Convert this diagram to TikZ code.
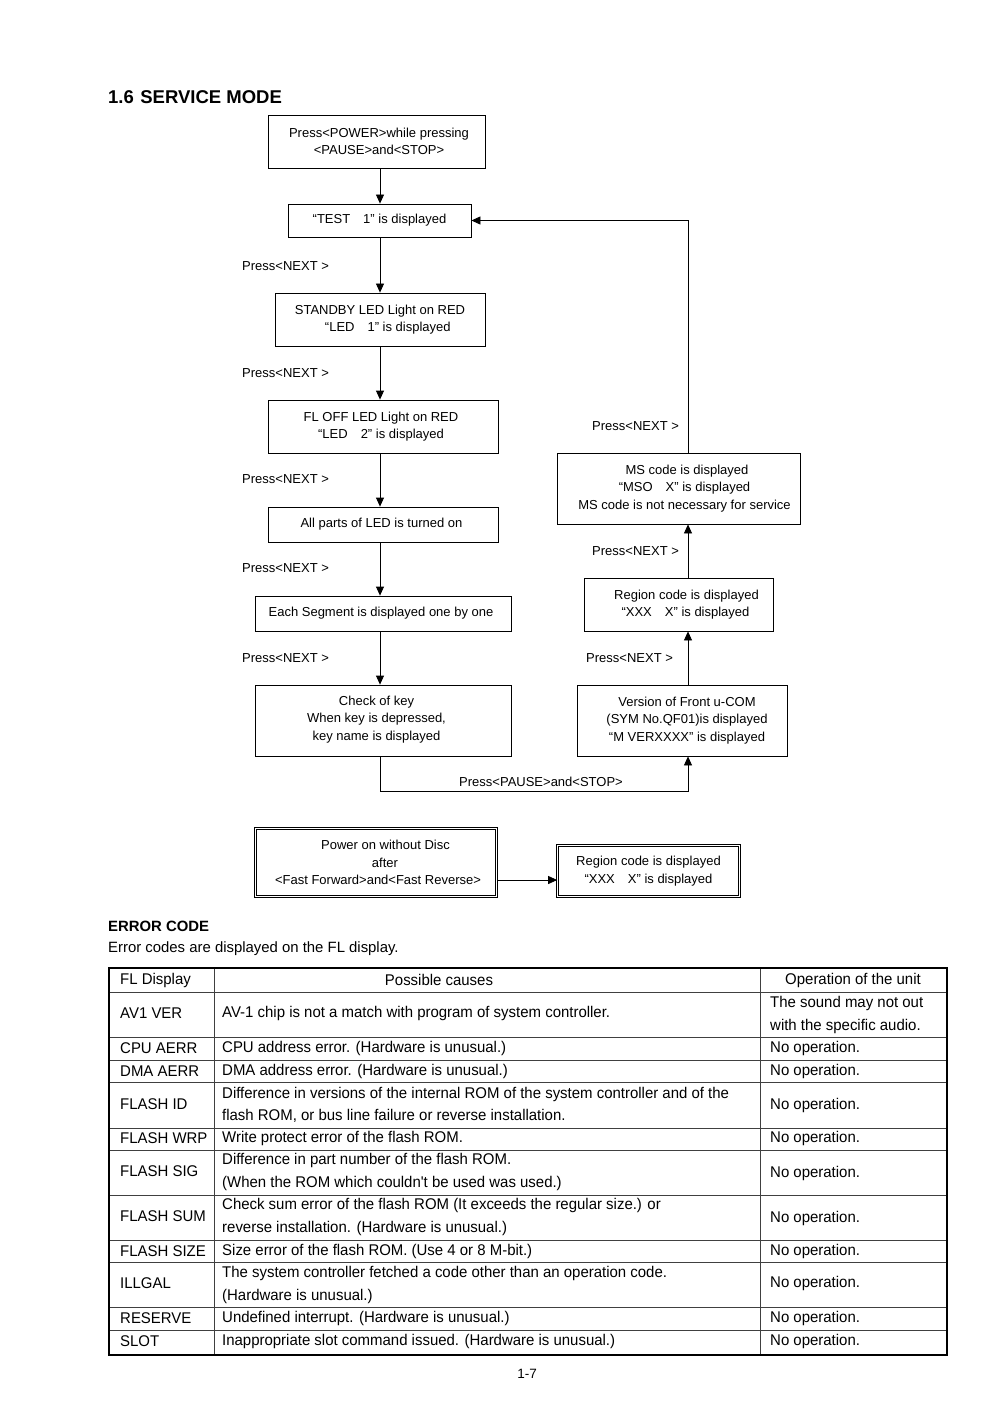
\documentclass[tikz,border=0pt]{standalone}
\usepackage{fontspec}
\setmainfont{Liberation Sans}
\newfontfamily\tabfont[FakeStretch=0.965]{Liberation Sans}
\usetikzlibrary{arrows.meta}
\newcommand{\fsz}{\fontsize{13}{17.5}\selectfont}
\newcommand{\tsz}{\tabfont\fontsize{15.5}{22.5}\selectfont}
\tikzset{
  box/.style={draw, line width=0.8pt, align=center, font=\fsz, inner sep=0pt},
  txt/.style={align=center, font=\fsz, inner sep=0pt},
  dbox/.style={draw, double, double distance=1.6pt, line width=0.7pt, align=center, font=\fsz, inner sep=0pt},
  lbl/.style={anchor=west, font=\fsz, inner sep=0pt},
  arr/.style={line width=0.8pt, -{Triangle[length=9pt,width=8pt]}},
  cell/.style={anchor=west, align=left, font=\tsz, inner sep=0pt},
  ccell/.style={align=center, font=\tsz, inner sep=0pt},
  rowline/.style={line width=0.7pt, black!75},
}
\begin{document}
\begin{tikzpicture}[x=1pt,y=-1pt]
\useasboundingbox (0,0) rectangle (992,1404);
\node[anchor=west, font=\bfseries\fontsize{18.5}{20}\selectfont, inner sep=0pt] (title) at (108,97) {1.6\hspace{0.35em}SERVICE MODE};

% left column
\coordinate (col) at (380,0);
\coordinate (rc) at (688,0);
\node[box, minimum width=217, minimum height=53] (b1) at (376.5,141.5) {\hspace*{5pt}Press<POWER>while pressing\\\hspace*{5pt}<PAUSE>and<STOP>};
\node[box, minimum width=183, minimum height=33] (b2) at (379.5,220.5) {“TEST\quad 1” is displayed};
\node[box, minimum width=210, minimum height=53] (b3) at (380,319.5) {STANDBY LED Light on RED\\\hspace*{1.2em}“LED\quad 1” is displayed};
\node[box, minimum width=230, minimum height=53] (b4) at (383,426.5) {FL OFF LED Light on RED\hspace*{4pt}\\“LED\quad 2” is displayed\hspace*{4pt}};
\node[box, minimum width=230, minimum height=35] (b5) at (383,524.5) {All parts of LED is turned on\hspace*{3pt}};
\node[box, minimum width=256, minimum height=35] (b6) at (383,613.5) {Each Segment is displayed one by one\hspace*{4pt}};
\node[box, minimum width=256, minimum height=71] (b7) at (383,720.5) {};
\node[txt] (t7) at (376.5,719.5) {Check of key\\When key is depressed,\\key name is displayed};

% right column
\node[box, minimum width=210, minimum height=71] (b8) at (682,720.5) {\hspace*{10pt}Version of Front u-COM\\\hspace*{10pt}(SYM No.QF01)is displayed\\\hspace*{10pt}“M VERXXXX” is displayed};
\node[box, minimum width=189, minimum height=53] (b9) at (678.5,604.5) {\hspace*{16pt}Region code is displayed\\\hspace*{14pt}“XXX\quad X” is displayed};
\node[box, minimum width=243, minimum height=71] (b10) at (678.5,488.5) {\hspace*{17pt}MS code is displayed\\\hspace*{12pt}“MSO\quad X” is displayed\\\hspace*{12pt}MS code is not necessary for service};

% labels
\node[lbl] (l1) at (242,266) {Press<NEXT >};
\node[lbl] (l2) at (242,373) {Press<NEXT >};
\node[lbl] (l3) at (242,479) {Press<NEXT >};
\node[lbl] (l4) at (242,568) {Press<NEXT >};
\node[lbl] (l5) at (242,658) {Press<NEXT >};
\node[lbl] (r1) at (592,426) {Press<NEXT >};
\node[lbl] (r2) at (592,551) {Press<NEXT >};
\node[lbl] (r3) at (586,658) {Press<NEXT >};
\node[font=\fsz, inner sep=0pt] (lps) at (541,782) {Press<PAUSE>and<STOP>};

% connectors
\draw[arr] (col |- b1.south) -- (col |- b2.north);
\draw[arr] (col |- b2.south) -- (col |- b3.north);
\draw[arr] (col |- b3.south) -- (col |- b4.north);
\draw[arr] (col |- b4.south) -- (col |- b5.north);
\draw[arr] (col |- b5.south) -- (col |- b6.north);
\draw[arr] (col |- b6.south) -- (col |- b7.north);
\coordinate (bot) at (380,791);
\draw[arr] (col |- b7.south) -- (bot) -| (rc |- b8.south);
\draw[arr] (rc |- b8.north) -- (rc |- b9.south);
\draw[arr] (rc |- b9.north) -- (rc |- b10.south);
\draw[arr] (rc |- b10.north) |- (b2.east);

% double boxes
\node[dbox, minimum width=241, minimum height=68] (d1) at (376,862.5) {\hspace*{19pt}Power on without Disc\\\hspace*{18pt}after\\\hspace*{4pt}<Fast Forward>and<Fast Reverse>};
\node[dbox, minimum width=182, minimum height=51] (d2) at (648.5,871) {Region code is displayed\\“XXX\quad X” is displayed};
\draw[arr] (d1.east |- 0,880) -- (d2.west |- 0,880);

% error code
\node[anchor=west, font=\bfseries\fontsize{14.9}{16}\selectfont, inner sep=0pt] (ec) at (108,926) {ERROR CODE};
\node[anchor=west, font=\fontsize{14.9}{16}\selectfont, inner sep=0pt] (ect) at (108,949) {Error codes are displayed on the FL display.};

% table
\foreach \y in {992,1037,1060,1082,1128,1150,1195,1240,1262,1307,1330}
  \draw[rowline] (109,\y) -- (947,\y);
\draw[rowline] (214,968) -- (214,1355);
\draw[rowline] (760,968) -- (760,1355);
\draw[line width=1.6pt] (109,968) rectangle (947,1355);

\node[cell] (h1) at (120,980) {FL Display};
\node[ccell] (h2) at (439,980) {Possible causes};
\node[ccell] (h3) at (853,980) {Operation of the unit};

\node[cell] (a1) at (120,1013) {AV1 VER};
\node[cell] (a2) at (222,1013) {AV-1 chip is not a match with program of system controller.};
\node[cell] (a3) at (770,1015) {The sound may not out\\with the specific audio.};

\node[cell] (c1) at (120,1048) {CPU AERR};
\node[cell] (c2) at (222,1048) {CPU address error. (Hardware is unusual.)};
\node[cell] (c3) at (770,1048) {No operation.};

\node[cell] (d1a) at (120,1071) {DMA AERR};
\node[cell] (d2a) at (222,1071) {DMA address error. (Hardware is unusual.)};
\node[cell] (d3a) at (770,1071) {No operation.};

\node[cell] (f1) at (120,1104) {FLASH ID};
\node[cell] (f2) at (222,1105) {Difference in versions of the internal ROM of the system controller and of the\\flash ROM, or bus line failure or reverse installation.};
\node[cell] (f3) at (770,1105) {No operation.};

\node[cell] (w1) at (120,1138) {FLASH WRP};
\node[cell] (w2) at (222,1138) {Write protect error of the flash ROM.};
\node[cell] (w3) at (770,1138) {No operation.};

\node[cell] (s1) at (120,1171) {FLASH SIG};
\node[cell] (s2) at (222,1172) {Difference in part number of the flash ROM.\\(When the ROM which couldn't be used was used.)};
\node[cell] (s3) at (770,1173) {No operation.};

\node[cell] (u1) at (120,1216) {FLASH SUM};
\node[cell] (u2) at (222,1217) {Check sum error of the flash ROM (It exceeds the regular size.) or\\reverse installation. (Hardware is unusual.)};
\node[cell] (u3) at (770,1218) {No operation.};

\node[cell] (z1) at (120,1251) {FLASH SIZE};
\node[cell] (z2) at (222,1251) {Size error of the flash ROM. (Use 4 or 8 M-bit.)};
\node[cell] (z3) at (770,1251) {No operation.};

\node[cell] (i1) at (120,1283) {ILLGAL};
\node[cell] (i2) at (222,1285) {The system controller fetched a code other than an operation code.\\(Hardware is unusual.)};
\node[cell] (i3) at (770,1283) {No operation.};

\node[cell] (re1) at (120,1318) {RESERVE};
\node[cell] (re2) at (222,1318) {Undefined interrupt. (Hardware is unusual.)};
\node[cell] (re3) at (770,1318) {No operation.};

\node[cell] (sl1) at (120,1341) {SLOT};
\node[cell] (sl2) at (222,1341) {Inappropriate slot command issued. (Hardware is unusual.)};
\node[cell] (sl3) at (770,1341) {No operation.};

\node[font=\fontsize{13.5}{15}\selectfont, inner sep=0pt] (pg) at (527,1374) {1-7};
\end{tikzpicture}
\end{document}
